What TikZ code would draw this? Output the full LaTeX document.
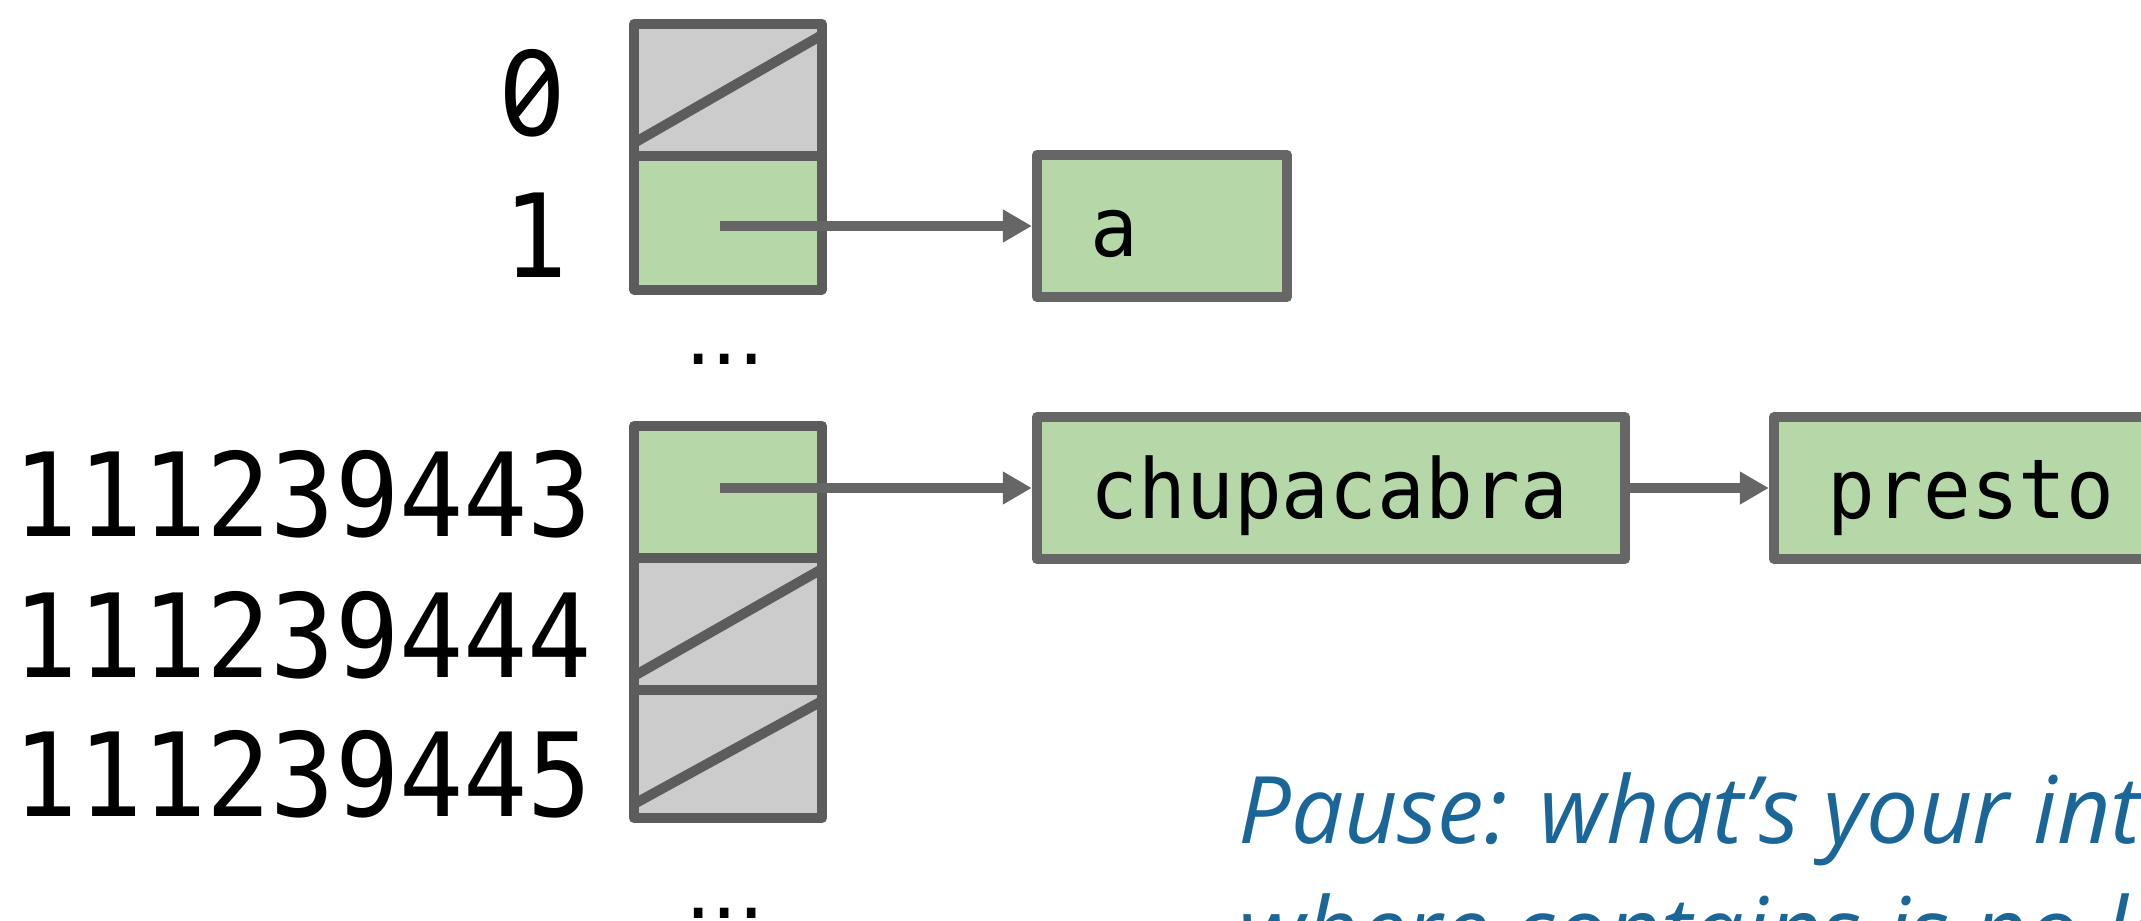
\documentclass[tikz,border=0pt]{standalone}
\usepackage{fontspec}
\usetikzlibrary{arrows.meta}
\newfontfamily\codefont{DejaVu Sans Mono}[FakeStretch=0.92]
\newfontfamily\entryfont{DejaVu Sans Mono}[FakeStretch=0.96]
\newfontfamily\zerofont{DejaVu Sans}[FakeStretch=0.92]
\newfontfamily\dotfont{DejaVu Sans}
\newfontfamily\notefont{Open Sans}
\definecolor{cellline}{HTML}{5C5C5C}
\definecolor{linkgray}{HTML}{666666}
\definecolor{cellgreen}{HTML}{B6D7A8}
\definecolor{cellgrey}{HTML}{CCCCCC}
\definecolor{noteblue}{HTML}{1A6698}

\begin{document}
\begin{tikzpicture}[x=0.01cm, y=-0.01cm,
  cell/.style={draw=cellline, line width=0.1cm, line join=round,
    minimum width=1.88cm, minimum height=1.32cm, inner sep=0pt, outer sep=0pt},
  usedcell/.style={cell, fill=cellgreen},
  nullcell/.style={cell, fill=cellgrey,
    path picture={\draw[cellline, line width=0.1cm]
      ([yshift=0.14cm]path picture bounding box.south west) --
      ([yshift=-0.11cm]path picture bounding box.north east);}},
  entry/.style={draw=linkgray, fill=cellgreen, line width=0.1cm, line join=round,
    minimum height=1.42cm, inner xsep=0.54cm, inner ysep=0pt,
    text height=0.6cm, text depth=0cm, align=left,
    font=\entryfont\fontsize{23.5}{28}\selectfont},
  link/.style={draw=linkgray, line width=0.1cm,
    -{Triangle[length=0.29cm, width=0.31cm]}},
  idx/.style={font=\codefont\fontsize{33}{40}\selectfont, inner sep=0pt, anchor=base east},
  gap/.style={font=\dotfont\fontsize{23.6}{28}\selectfont, inner sep=0pt, anchor=base},
  note/.style={font=\notefont\itshape\fontsize{26.5}{34}\selectfont, text=noteblue,
    inner sep=0pt, anchor=base west}]

\useasboundingbox (0,0) rectangle (2141,921);
\clip (0,0) rectangle (2141,921);

% bucket array, first rows
\node[nullcell, minimum height=1.33cm] (c0) at (728,90.5) {};
\node[usedcell, minimum height=1.33cm] (c1) at (728,223) {};
\node[idx, font=\zerofont\fontsize{33}{40}\selectfont] (l0) at (567,136) {0};
% slashed zero
\draw[black, line width=0.08cm]
  ([xshift=-0.51cm, yshift=0.22cm]l0.base east) --
  ([xshift=-0.18cm, yshift=0.64cm]l0.base east);
\node[idx] (l1) at (568,277) {1};
\node[gap] (g1) at (725,364) {...};

% bucket array, rows near the hash value
\node[usedcell] (c443) at (728,492) {};
\node[nullcell] (c444) at (728,624) {};
\node[nullcell, minimum height=1.28cm] (c445) at (728,754) {};
\node[idx] (l443) at (593,536) {111239443};
\node[idx] (l444) at (593,677) {111239444};
\node[idx] (l445) at (593,816) {111239445};
\node[gap] (g2) at (725,918) {...};

% chained entries
\node[entry, text width=1.42cm] (ea) at (1162,226) {a};
\node[entry, text width=4.80cm] (echupa) at (1331,488) {chupacabra};
\node[entry, text width=4.12cm] (epresto) at (2034,488) {presto};

% pointers
\coordinate (p1) at (720,226);
\coordinate (p443) at (720,488);
\draw[link] (p1) -- (ea.west);
\draw[link] (p443) -- (echupa.west);
\draw[link] (echupa.east) -- (epresto.west);

% question
\node[note] (q1) at (1238,843) {Pause: what’s your intuition for};
\node[note] (q2) at (1238,964) {where contains is no longer};
\end{tikzpicture}
\end{document}
